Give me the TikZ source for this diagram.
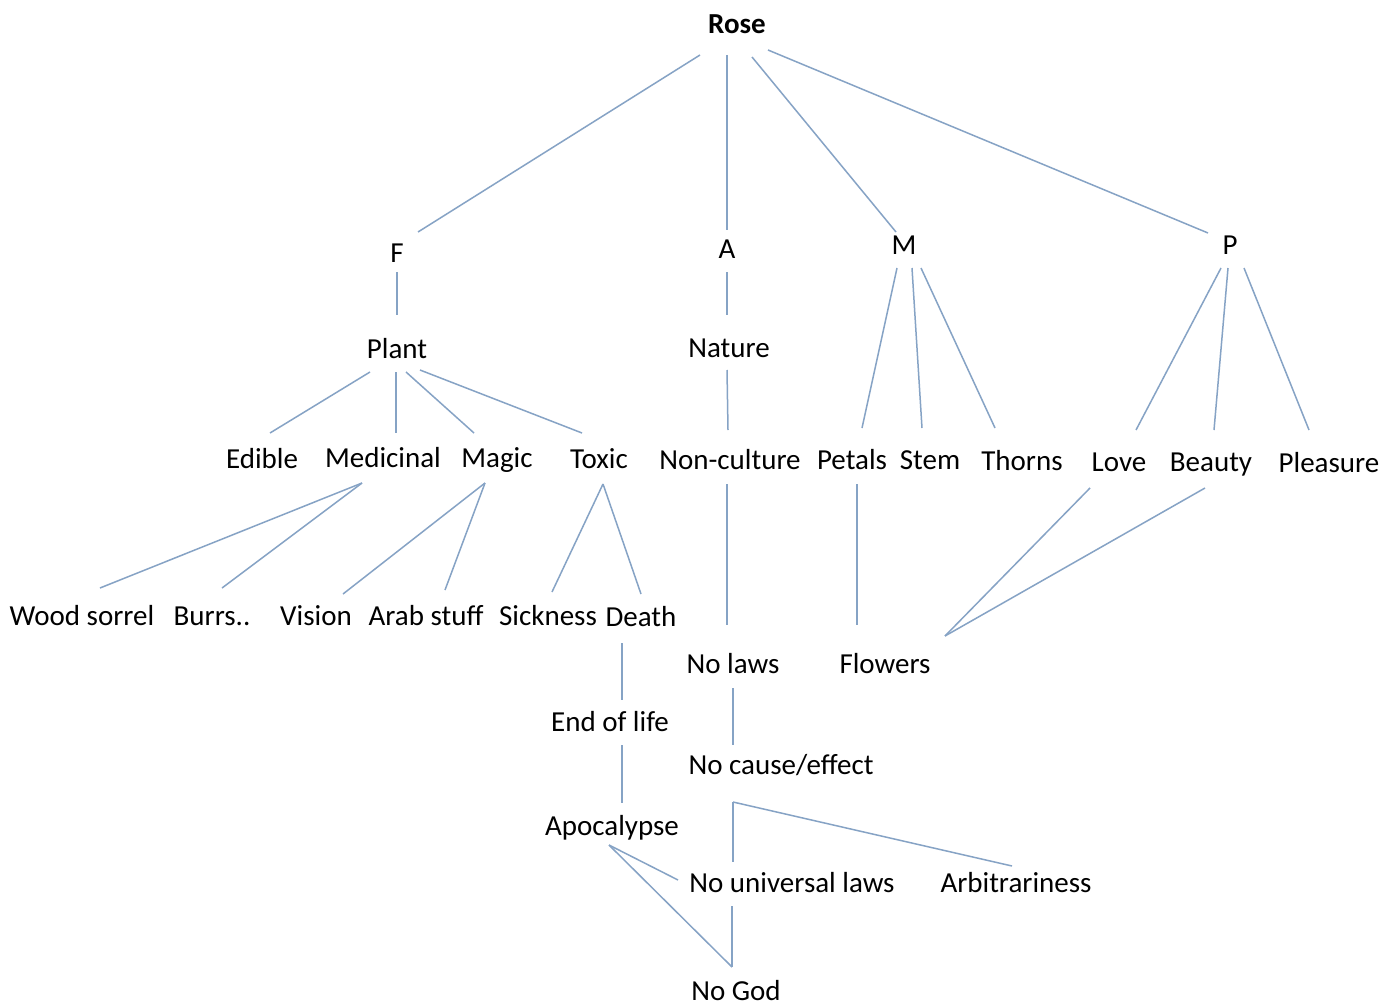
\documentclass[tikz,border=0pt]{standalone}
\usepackage{fontspec}
\setmainfont{Carlito}
\usetikzlibrary{calc}

\definecolor{linkblue}{RGB}{134,163,197}

\tikzset{
  lbl/.style={inner sep=0pt, text height=19pt, text depth=0pt,
              font=\fontsize{29}{30}\selectfont, text=black},
  rootlbl/.style={lbl, font=\fontsize{29}{30}\selectfont\bfseries},
  conn/.style={draw=linkblue, line width=1.5pt}
}

% connector between two nodes, each end offset from the node centre
\newcommand\link[4]{\draw[conn] ($(#1)+#2$) -- ($(#3)+#4$);}

\begin{document}
\begin{tikzpicture}[x=1pt, y=-1pt]
\useasboundingbox[fill=white] (0,0) rectangle (1399,1006);

% labels
\node[rootlbl] (Rose) at (737,24) {Rose};
\node[lbl] (F) at (397,253) {F};
\node[lbl] (A) at (727,249) {A};
\node[lbl] (M) at (904,245) {M};
\node[lbl] (P) at (1230,245) {P};
\node[lbl] (Plant) at (397,349) {Plant};
\node[lbl] (Nature) at (729,348) {Nature};
\node[lbl] (Edible) at (262,459) {Edible};
\node[lbl] (Medicinal) at (383,458) {Medicinal};
\node[lbl] (Magic) at (497,458) {Magic};
\node[lbl] (Toxic) at (599,459) {Toxic};
\node[lbl] (NonCulture) at (730,460) {Non-culture};
\node[lbl] (Petals) at (852,460) {Petals};
\node[lbl] (Stem) at (930,460) {Stem};
\node[lbl] (Thorns) at (1022,461) {Thorns};
\node[lbl] (Love) at (1119,462) {Love};
\node[lbl] (Beauty) at (1211,462) {Beauty};
\node[lbl] (Pleasure) at (1329,463) {Pleasure};
\node[lbl] (Wood) at (82,616) {Wood sorrel};
\node[lbl] (Burrs) at (212,616) {Burrs..};
\node[lbl] (Vision) at (316,616) {Vision};
\node[lbl] (Arab) at (426,616) {Arab stuff};
\node[lbl] (Sickness) at (548,616) {Sickness};
\node[lbl] (Death) at (641,617) {Death};
\node[lbl] (NoLaws) at (733,664) {No laws};
\node[lbl] (Flowers) at (885,664) {Flowers};
\node[lbl] (EndLife) at (610,722) {End of life};
\node[lbl] (NoCause) at (781,765) {No cause/effect};
\node[lbl] (Apoc) at (612,826) {Apocalypse};
\node[lbl] (NoUniv) at (792,883) {No universal laws};
\node[lbl] (Arbit) at (1016,883) {Arbitrariness};
\node[lbl] (NoGod) at (736,991) {No God};

% connectors
\link{Rose}{(-37,31)}{F}{(21,-21)}
\link{Rose}{(-10,31)}{A}{(0,-19)}
\link{Rose}{(15,33)}{M}{(-8,-13)}
\link{Rose}{(31,26)}{P}{(-22,-12)}
\link{F}{(0,19)}{Plant}{(0,-34)}
\link{A}{(0,23)}{Nature}{(-2,-33)}
\link{M}{(-7,23)}{Petals}{(10,-32)}
\link{M}{(8,23)}{Stem}{(-8,-32)}
\link{M}{(17,23)}{Thorns}{(-27,-33)}
\link{P}{(-9,23)}{Love}{(17,-32)}
\link{P}{(-2,23)}{Beauty}{(3,-32)}
\link{P}{(14,23)}{Pleasure}{(-20,-33)}
\link{Plant}{(-27,23)}{Edible}{(8,-26)}
\link{Plant}{(-1,23)}{Medicinal}{(13,-25)}
\link{Plant}{(9,23)}{Magic}{(-23,-25)}
\link{Plant}{(23,21)}{Toxic}{(-17,-26)}
\link{Nature}{(-2,22)}{NonCulture}{(-2,-30)}
\link{Medicinal}{(-21,25)}{Wood}{(18,-28)}
\link{Medicinal}{(-21,25)}{Burrs}{(10,-28)}
\link{Magic}{(-12,25)}{Vision}{(27,-22)}
\link{Magic}{(-12,25)}{Arab}{(19,-26)}
\link{Toxic}{(4,25)}{Sickness}{(4,-24)}
\link{Toxic}{(4,25)}{Death}{(0,-23)}
\link{NonCulture}{(-3,24)}{NoLaws}{(-6,-39)}
\link{Petals}{(5,24)}{Flowers}{(-28,-39)}
\link{Love}{(-29,26)}{Flowers}{(60,-28)}
\link{Beauty}{(-6,26)}{Flowers}{(60,-28)}
\link{Death}{(-19,26)}{EndLife}{(12,-22)}
\link{EndLife}{(12,23)}{Apoc}{(10,-23)}
\link{NoLaws}{(0,24)}{NoCause}{(-48,-20)}
\link{NoCause}{(-48,37)}{NoUniv}{(-59,-21)}
\link{NoCause}{(-48,37)}{Arbit}{(-4,-17)}
\link{Apoc}{(-3,19)}{NoUniv}{(-114,-3)}
\link{Apoc}{(-3,19)}{NoGod}{(-4,-24)}
\link{NoUniv}{(-60,23)}{NoGod}{(-4,-24)}
\end{tikzpicture}
\end{document}
